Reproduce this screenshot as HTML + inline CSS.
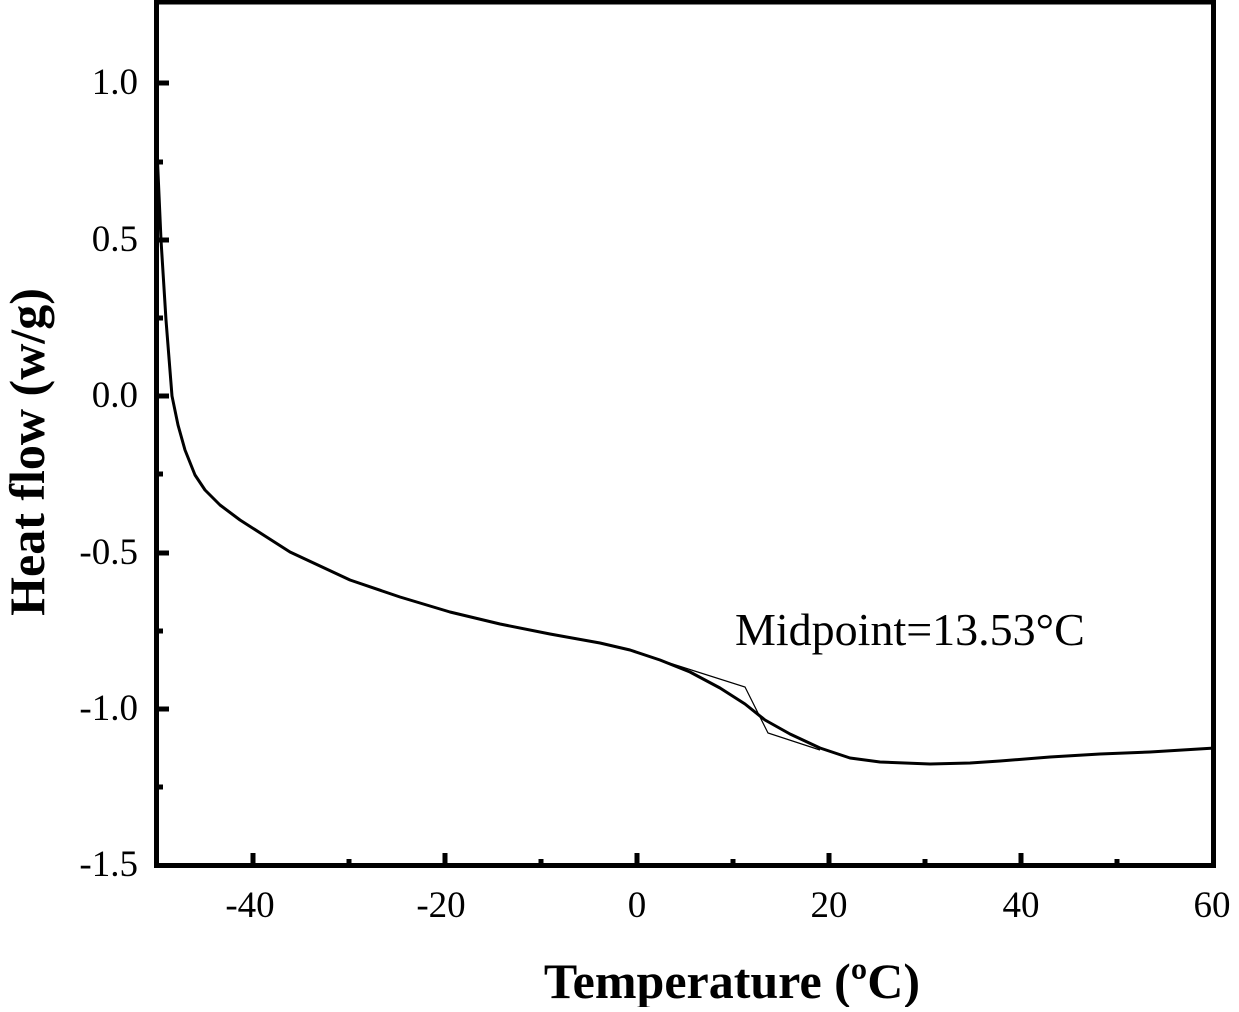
<!DOCTYPE html>
<html><head><style>
html,body{margin:0;padding:0;background:#fff;}
svg text{font-family:"Liberation Serif",serif;fill:#000;}
</style></head><body>
<svg width="1239" height="1007" viewBox="0 0 1239 1007" xmlns="http://www.w3.org/2000/svg">
<rect x="156.5" y="2" width="1057" height="863.5" fill="none" stroke="#000" stroke-width="5"/>
<g stroke="#000" stroke-width="5">
<line x1="253" y1="865" x2="253" y2="853"/><line x1="349" y1="865" x2="349" y2="859"/>
<line x1="445" y1="865" x2="445" y2="853"/><line x1="541" y1="865" x2="541" y2="859"/>
<line x1="637" y1="865" x2="637" y2="853"/><line x1="733" y1="865" x2="733" y2="859"/>
<line x1="829" y1="865" x2="829" y2="853"/><line x1="925" y1="865" x2="925" y2="859"/>
<line x1="1021" y1="865" x2="1021" y2="853"/><line x1="1117" y1="865" x2="1117" y2="859"/>
<line x1="157" y1="787" x2="163" y2="787"/><line x1="157" y1="709" x2="169" y2="709"/>
<line x1="157" y1="631" x2="163" y2="631"/><line x1="157" y1="553" x2="169" y2="553"/>
<line x1="157" y1="474" x2="163" y2="474"/><line x1="157" y1="396" x2="169" y2="396"/>
<line x1="157" y1="318" x2="163" y2="318"/><line x1="157" y1="240" x2="169" y2="240"/>
<line x1="157" y1="162" x2="163" y2="162"/><line x1="157" y1="83" x2="169" y2="83"/>
</g>
<g font-size="37" text-anchor="end">
<text x="138" y="94">1.0</text><text x="138" y="251">0.5</text><text x="138" y="407">0.0</text>
<text x="138" y="564">-0.5</text><text x="138" y="720">-1.0</text><text x="138" y="876">-1.5</text>
</g>
<g font-size="37" text-anchor="middle">
<text x="250" y="917">-40</text><text x="441" y="917">-20</text><text x="637" y="917">0</text>
<text x="829" y="917">20</text><text x="1021" y="917">40</text><text x="1212" y="917">60</text>
</g>
<text x="732" y="998" font-size="50" font-weight="bold" text-anchor="middle">Temperature (ºC)</text>
<text transform="translate(44,452) rotate(-90)" font-size="50" font-weight="bold" text-anchor="middle">Heat flow (w/g)</text>
<text x="735" y="645" font-size="46">Midpoint=13.53°C</text>
<path d="M157,150 L161,240 L166,320 L172,396 L178,425 L185,450 L195,475 L205,490 L220,505 L240,520 L265,536 L290,552 L320,566 L350,580 L400,597 L450,612 L500,624 L550,634 L600,643 L630,650 L660,660 L690,672 L720,688 L745,704 L765,720 L790,734 L820,748 L850,758 L880,762 L930,764 L970,763 L1000,761 L1050,757 L1100,754 L1150,752 L1215,748" fill="none" stroke="#000" stroke-width="3" stroke-linejoin="round"/>
<polyline points="660,660 745,687 768,733 820,750" fill="none" stroke="#000" stroke-width="1.2"/>
</svg>
</body></html>
